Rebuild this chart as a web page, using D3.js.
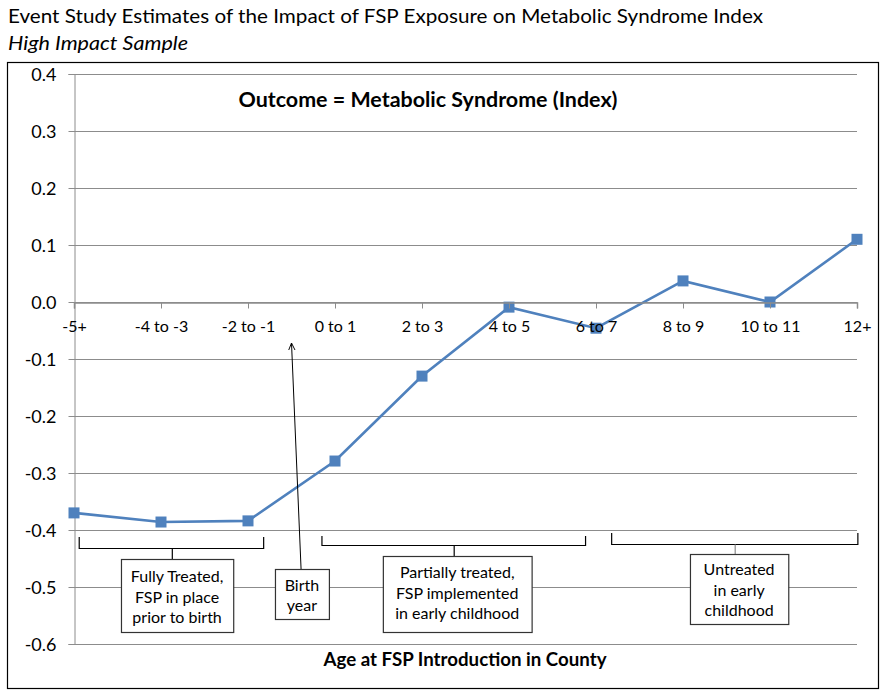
<!DOCTYPE html>
<html><head><meta charset="utf-8">
<script src="https://cdn.jsdelivr.net/npm/d3@7"></script>
<style>body{margin:0;background:#fff}svg{display:block}text{font-family:Lato,"Open Sans",sans-serif;fill:#000}</style>
</head><body><svg id="c" width="889" height="698"></svg>
<script>
const categories = ["-5+","-4 to -3","-2 to -1","0 to 1","2 to 3","4 to 5","6 to 7","8 to 9","10 to 11","12+"];
const values = [-0.370,-0.386,-0.384,-0.279,-0.130,-0.009,-0.046,0.037,0.000,0.110];
const yTicks = [0.4,0.3,0.2,0.1,0.0,-0.1,-0.2,-0.3,-0.4,-0.5,-0.6];
const title = "Event Study Estimates of the Impact of FSP Exposure on Metabolic Syndrome Index";
const subtitle = "High Impact Sample";
const innerTitle = "Outcome = Metabolic Syndrome (Index)";
const xTitle = "Age at FSP Introduction in County";
const groupLabels = [["Fully Treated,","FSP in place","prior to birth"],["Partially treated,","FSP implemented","in early childhood"],["Untreated","in early","childhood"]];
const birthLabel = ["Birth","year"];

const svg = d3.select("#c");
const L=74,R=857,T=74,B=644;
const x = d3.scalePoint().domain(categories).range([L,R]).padding(0);
const xi = d3.scaleLinear().domain([0,categories.length-1]).range([L,R]);
const y = d3.scaleLinear().domain([-0.6,0.4]).range([B,T]);

// titles
svg.append("text").attr("x",8).attr("y",23).attr("font-size",20).attr("textLength",755).attr("lengthAdjust","spacingAndGlyphs").text(title);
svg.append("text").attr("x",8).attr("y",50).attr("font-size",20).attr("font-style","italic").attr("textLength",180).attr("lengthAdjust","spacingAndGlyphs").text(subtitle);
// outer border
svg.append("rect").attr("x",7.5).attr("y",62.5).attr("width",871).attr("height",626).attr("fill","none").attr("stroke","#000").attr("stroke-width",1.2);

// gridlines
svg.append("g").selectAll("line").data(yTicks).join("line")
  .attr("x1",L).attr("x2",R).attr("y1",d=>Math.round(y(d))+0.5).attr("y2",d=>Math.round(y(d))+0.5)
  .attr("stroke","#8c8c8c").attr("stroke-width",1);
// y axis
const ya = svg.append("g").attr("transform",`translate(${L+0.5},0)`)
  .call(d3.axisLeft(y).tickValues(yTicks).tickFormat(d=>d3.format(".1f")(d).replace("\u2212","-")).tickSize(6).tickPadding(12));
ya.select(".domain").attr("stroke","#8c8c8c");
ya.selectAll(".tick line").attr("stroke","#8c8c8c");
ya.selectAll("text").attr("font-size",18).attr("font-family","Lato,sans-serif").attr("fill","#000").attr("dy","0.35em");
// x axis at zero
const xa = svg.append("g").attr("transform",`translate(0,${Math.round(y(0))+0.5})`)
  .call(d3.axisBottom(x).tickSize(6).tickPadding(12));
xa.select(".domain").attr("stroke","#8c8c8c").attr("stroke-width",1.5);
xa.selectAll(".tick line").attr("stroke","#8c8c8c");
xa.selectAll("text").attr("font-size",16).attr("font-family","Lato,sans-serif").attr("fill","#000");

// inner title
svg.append("text").attr("x",428).attr("y",107).attr("text-anchor","middle").attr("font-size",20).attr("font-weight","bold").attr("textLength",379).attr("lengthAdjust","spacingAndGlyphs").text(innerTitle);
svg.append("text").attr("x",465).attr("y",666).attr("text-anchor","middle").attr("font-size",18).attr("font-weight","bold").attr("textLength",283).attr("lengthAdjust","spacingAndGlyphs").text(xTitle);

// series
const line = d3.line().x((d,i)=>x(categories[i])).y(d=>y(d));
svg.append("path").datum(values).attr("d",line).attr("fill","none").attr("stroke","#4F81BD").attr("stroke-width",2.6);
svg.append("g").selectAll("rect").data(values).join("rect")
  .attr("x",(d,i)=>x(categories[i])-5.5).attr("y",d=>y(d)-5.5).attr("width",11).attr("height",11).attr("fill","#4F81BD");
// keep category labels on top of markers
xa.raise();

// brackets
function bracket(x1,x2,yh,ytop,xc,yend,col,stemCol){
  const p = d3.path();
  p.moveTo(x1,ytop); p.lineTo(x1,yh); p.lineTo(x2,yh); p.lineTo(x2,ytop);
  svg.append("path").attr("d",p.toString()).attr("fill","none").attr("stroke",col).attr("stroke-width",1.2);
  svg.append("line").attr("x1",xc).attr("x2",xc).attr("y1",yh).attr("y2",yend).attr("stroke",stemCol).attr("stroke-width",1.2);
}
bracket(xi(0.06),xi(2.18),548.5,537,xi(1.13),559,"#000","#000");
bracket(xi(2.85),xi(5.88),545.5,536,xi(4.37),556,"#000","#000");
bracket(xi(6.18),xi(9.01),544.5,533,xi(7.6),554,"#000","#8c8c8c");

function box(x1,y1,x2,y2,lines,ly0,lh){
  svg.append("rect").attr("x",x1+0.5).attr("y",y1+0.5).attr("width",x2-x1).attr("height",y2-y1).attr("fill","#fff").attr("stroke","#333").attr("stroke-width",1.2);
  const cx=(x1+x2)/2;
  lines.forEach((t,i)=>svg.append("text").attr("x",cx).attr("y",ly0+i*lh).attr("text-anchor","middle").attr("font-size",16).text(t));
}
box(xi(0.54),559,xi(1.83),632,groupLabels[0],582,20.5);
box(xi(3.55),556,xi(5.26),632,groupLabels[1],578,20.5);
box(xi(7.08),554,xi(8.21),624,groupLabels[2],575,20.5);

// birth year arrow
svg.append("defs").append("marker").attr("id","ah").attr("viewBox","0 0 10 10").attr("refX",9).attr("refY",5)
  .attr("markerWidth",8).attr("markerHeight",8).attr("orient","auto-start-reverse")
  .append("path").attr("d","M0,1 L9,5 L0,9").attr("fill","none").attr("stroke","#000").attr("stroke-width",1.2);
svg.append("line").attr("x1",xi(2.61)).attr("y1",569).attr("x2",xi(2.5)).attr("y2",343)
  .attr("stroke","#000").attr("stroke-width",1).attr("marker-end","url(#ah)");
box(xi(2.31),569,xi(2.93),619,birthLabel,591,20);
</script></body></html>
